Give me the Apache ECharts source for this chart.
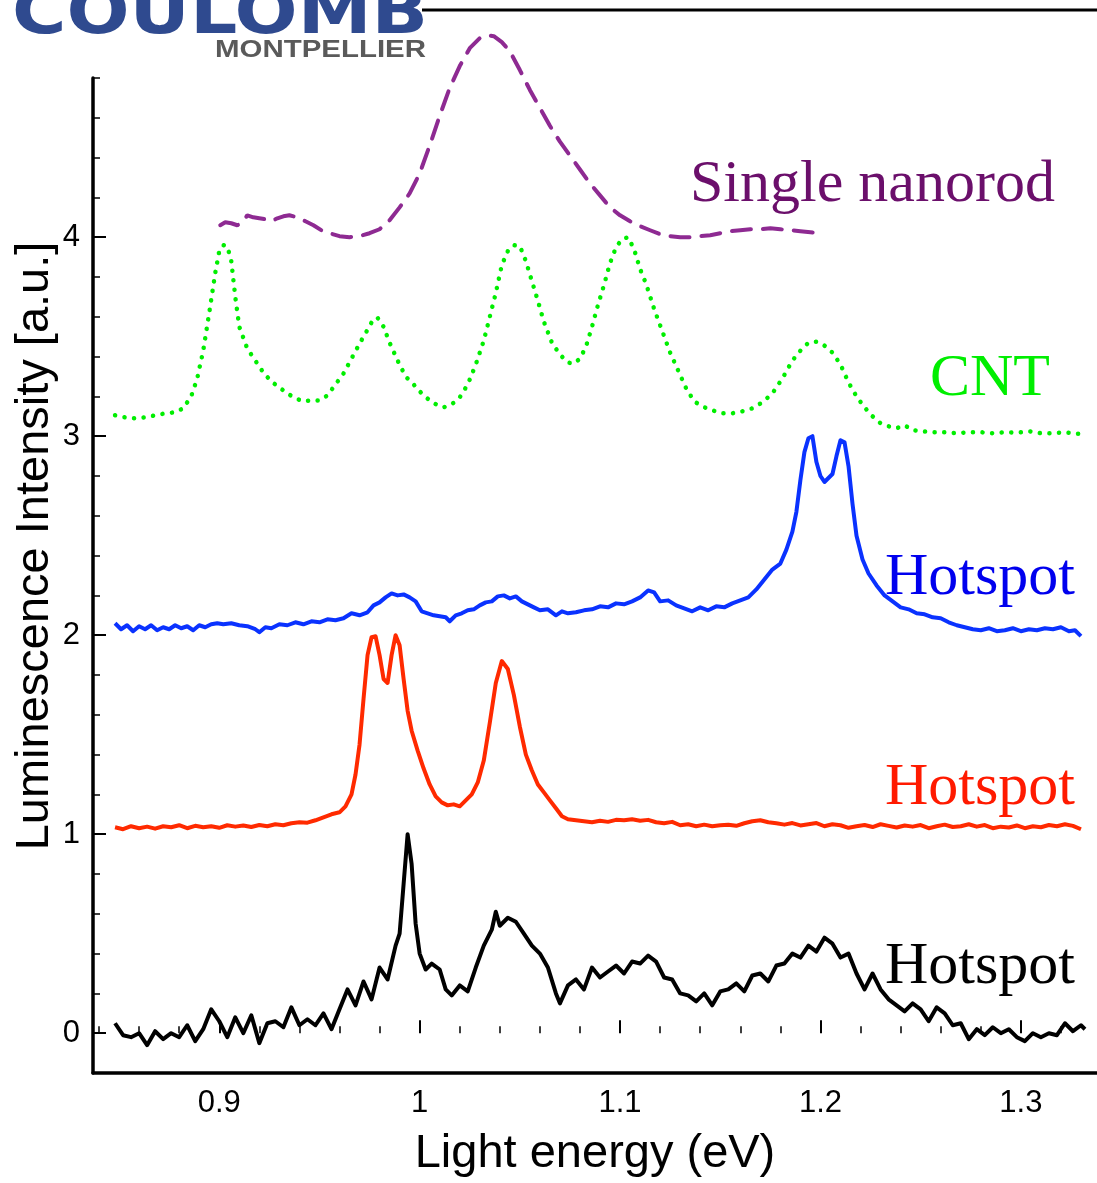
<!DOCTYPE html>
<html>
<head>
<meta charset="utf-8">
<script src="https://cdn.jsdelivr.net/npm/echarts@6/dist/echarts.min.js"></script>
<style>html,body{margin:0;padding:0;background:#fff}#chart{width:1097px;height:1183px}</style>
</head>
<body>
<div id="chart"></div>
<script>
// ---------- DATA ----------
const xMajorTicks = [0.9, 1.0, 1.1, 1.2, 1.3];
const xMinorTicks = [0.84, 0.86, 0.88, 0.92, 0.94, 0.96, 0.98, 1.02, 1.04, 1.06, 1.08, 1.12, 1.14, 1.16, 1.18, 1.22, 1.24, 1.26, 1.28, 1.32];
const yMajorTicks = [0, 1, 2, 3, 4];
const yMinorTicks = [0.2, 0.4, 0.6, 0.8, 1.2, 1.4, 1.6, 1.8, 2.2, 2.4, 2.6, 2.8, 3.2, 3.4, 3.6, 3.8, 4.2, 4.4, 4.6, 4.8];
const seriesLabels = ["Single nanorod", "CNT", "Hotspot", "Hotspot", "Hotspot"];

// Black "Hotspot"
const energyBlack = [0.848,0.852,0.856,0.860,0.864,0.868,0.872,0.876,0.880,0.884,0.888,0.892,0.896,0.900,0.904,0.908,0.912,0.916,0.920,0.924,0.928,0.932,0.936,0.940,0.944,0.948,0.952,0.956,0.960,0.964,0.968,0.972,0.976,0.980,0.984,0.988,0.990,0.992,0.994,0.996,0.998,1.000,1.003,1.006,1.010,1.013,1.016,1.020,1.024,1.028,1.032,1.036,1.038,1.040,1.044,1.048,1.052,1.056,1.060,1.064,1.068,1.070,1.074,1.078,1.082,1.086,1.090,1.094,1.098,1.102,1.106,1.110,1.114,1.118,1.122,1.126,1.130,1.134,1.138,1.142,1.146,1.150,1.154,1.158,1.162,1.166,1.170,1.174,1.178,1.182,1.186,1.190,1.194,1.198,1.202,1.206,1.210,1.214,1.218,1.222,1.226,1.230,1.234,1.238,1.242,1.246,1.250,1.254,1.258,1.262,1.266,1.270,1.274,1.278,1.282,1.286,1.290,1.294,1.298,1.302,1.306,1.310,1.314,1.318,1.322,1.326,1.330,1.332];
const intensityBlack = [0.05,-0.01,-0.02,0.00,-0.06,0.01,-0.03,0.00,-0.02,0.04,-0.04,0.02,0.12,0.06,-0.02,0.08,0.00,0.09,-0.05,0.05,0.06,0.03,0.13,0.04,0.07,0.04,0.10,0.02,0.12,0.22,0.14,0.26,0.17,0.33,0.27,0.44,0.50,0.75,1.00,0.85,0.55,0.40,0.32,0.35,0.32,0.22,0.19,0.24,0.21,0.33,0.44,0.52,0.61,0.54,0.58,0.56,0.50,0.44,0.40,0.33,0.20,0.15,0.24,0.27,0.22,0.33,0.28,0.31,0.34,0.30,0.36,0.35,0.39,0.36,0.28,0.27,0.20,0.19,0.16,0.20,0.14,0.21,0.22,0.25,0.21,0.29,0.30,0.26,0.34,0.35,0.40,0.38,0.44,0.41,0.48,0.45,0.38,0.40,0.30,0.22,0.30,0.22,0.17,0.14,0.11,0.15,0.12,0.06,0.13,0.10,0.04,0.05,-0.03,0.02,-0.01,0.03,0.00,0.02,-0.02,-0.04,0.00,-0.02,0.00,-0.01,0.05,0.01,0.04,0.02];

// Red "Hotspot"
const energyRed = [0.848,0.852,0.856,0.860,0.864,0.868,0.872,0.876,0.880,0.884,0.888,0.892,0.896,0.900,0.904,0.908,0.912,0.916,0.920,0.924,0.928,0.932,0.936,0.940,0.944,0.948,0.952,0.956,0.960,0.963,0.966,0.968,0.970,0.972,0.974,0.976,0.978,0.980,0.982,0.984,0.986,0.988,0.990,0.992,0.994,0.996,0.999,1.002,1.005,1.008,1.011,1.014,1.017,1.020,1.023,1.026,1.029,1.032,1.035,1.038,1.041,1.044,1.047,1.050,1.053,1.056,1.059,1.062,1.065,1.068,1.071,1.074,1.078,1.082,1.086,1.090,1.094,1.098,1.102,1.106,1.110,1.114,1.118,1.122,1.126,1.130,1.134,1.138,1.142,1.146,1.150,1.154,1.158,1.162,1.166,1.170,1.174,1.178,1.182,1.186,1.190,1.194,1.198,1.202,1.206,1.210,1.214,1.218,1.222,1.226,1.230,1.234,1.238,1.242,1.246,1.250,1.254,1.258,1.262,1.266,1.270,1.274,1.278,1.282,1.286,1.290,1.294,1.298,1.302,1.306,1.310,1.314,1.318,1.322,1.326,1.330];
const intensityRed = [1.035,1.025,1.040,1.030,1.038,1.028,1.040,1.035,1.045,1.030,1.042,1.035,1.040,1.032,1.045,1.038,1.044,1.036,1.046,1.040,1.050,1.045,1.055,1.060,1.058,1.070,1.085,1.100,1.110,1.140,1.200,1.300,1.450,1.680,1.900,1.990,1.995,1.900,1.780,1.760,1.900,2.000,1.950,1.780,1.620,1.520,1.420,1.330,1.250,1.190,1.160,1.145,1.150,1.140,1.170,1.200,1.260,1.370,1.560,1.760,1.870,1.830,1.700,1.540,1.400,1.320,1.250,1.210,1.170,1.130,1.090,1.075,1.070,1.065,1.060,1.068,1.062,1.072,1.070,1.075,1.068,1.072,1.060,1.055,1.062,1.045,1.050,1.040,1.048,1.040,1.045,1.048,1.042,1.055,1.065,1.070,1.060,1.055,1.048,1.056,1.044,1.050,1.056,1.040,1.050,1.045,1.032,1.040,1.046,1.036,1.050,1.042,1.034,1.044,1.038,1.046,1.030,1.040,1.048,1.036,1.040,1.050,1.038,1.046,1.030,1.038,1.034,1.044,1.030,1.040,1.035,1.046,1.040,1.050,1.042,1.025];

// Blue "Hotspot"
const energyBlue = [0.848,0.851,0.854,0.857,0.860,0.863,0.866,0.869,0.872,0.875,0.878,0.881,0.884,0.887,0.890,0.893,0.896,0.899,0.902,0.906,0.910,0.914,0.918,0.920,0.923,0.926,0.930,0.934,0.938,0.942,0.946,0.950,0.954,0.958,0.962,0.966,0.970,0.974,0.977,0.980,0.983,0.986,0.989,0.992,0.995,0.998,1.001,1.004,1.007,1.010,1.013,1.015,1.018,1.021,1.024,1.027,1.030,1.033,1.036,1.039,1.042,1.045,1.048,1.051,1.054,1.057,1.060,1.064,1.068,1.071,1.074,1.078,1.082,1.086,1.090,1.094,1.098,1.102,1.106,1.110,1.114,1.117,1.120,1.124,1.128,1.132,1.136,1.140,1.144,1.148,1.152,1.156,1.160,1.164,1.168,1.172,1.176,1.180,1.183,1.186,1.188,1.190,1.192,1.194,1.196,1.198,1.200,1.202,1.204,1.206,1.208,1.210,1.212,1.214,1.216,1.218,1.221,1.224,1.228,1.232,1.236,1.240,1.244,1.248,1.252,1.256,1.260,1.264,1.268,1.272,1.276,1.280,1.284,1.288,1.292,1.296,1.300,1.304,1.308,1.312,1.316,1.320,1.324,1.327,1.330];
const intensityBlue = [2.06,2.03,2.05,2.02,2.045,2.03,2.05,2.025,2.04,2.03,2.05,2.035,2.045,2.025,2.05,2.04,2.055,2.06,2.055,2.06,2.05,2.045,2.03,2.015,2.04,2.035,2.055,2.05,2.065,2.055,2.07,2.065,2.08,2.075,2.085,2.11,2.10,2.115,2.15,2.165,2.19,2.21,2.20,2.205,2.19,2.17,2.12,2.11,2.10,2.095,2.09,2.07,2.10,2.11,2.125,2.13,2.15,2.165,2.17,2.195,2.20,2.185,2.195,2.17,2.155,2.14,2.125,2.13,2.10,2.12,2.11,2.115,2.125,2.13,2.145,2.14,2.16,2.155,2.17,2.19,2.225,2.215,2.17,2.175,2.15,2.135,2.12,2.14,2.125,2.145,2.14,2.16,2.175,2.19,2.23,2.28,2.33,2.36,2.43,2.52,2.62,2.78,2.92,2.99,3.00,2.87,2.80,2.77,2.79,2.81,2.90,2.98,2.97,2.85,2.66,2.50,2.38,2.31,2.25,2.20,2.17,2.14,2.13,2.11,2.105,2.09,2.085,2.065,2.05,2.04,2.03,2.025,2.035,2.02,2.025,2.035,2.02,2.03,2.025,2.035,2.03,2.04,2.02,2.025,1.995];

// Green "CNT"
const energyCNT = [0.848,0.853,0.858,0.863,0.868,0.873,0.878,0.882,0.886,0.889,0.892,0.895,0.898,0.900,0.902,0.904,0.906,0.908,0.910,0.914,0.918,0.922,0.926,0.930,0.934,0.938,0.942,0.946,0.950,0.954,0.958,0.962,0.966,0.970,0.974,0.977,0.979,0.982,0.985,0.989,0.993,0.997,1.001,1.005,1.009,1.012,1.016,1.020,1.024,1.028,1.032,1.035,1.038,1.041,1.044,1.047,1.050,1.053,1.056,1.059,1.062,1.066,1.070,1.074,1.077,1.080,1.083,1.086,1.089,1.092,1.095,1.098,1.101,1.104,1.107,1.110,1.113,1.117,1.121,1.125,1.129,1.133,1.137,1.141,1.146,1.151,1.156,1.161,1.166,1.171,1.176,1.181,1.186,1.190,1.194,1.198,1.202,1.206,1.210,1.214,1.218,1.222,1.226,1.230,1.234,1.238,1.242,1.246,1.250,1.256,1.262,1.268,1.274,1.280,1.286,1.292,1.298,1.304,1.310,1.316,1.322,1.328,1.332];
const intensityCNT = [3.105,3.095,3.09,3.095,3.105,3.115,3.12,3.14,3.20,3.29,3.43,3.62,3.82,3.93,3.96,3.955,3.88,3.70,3.55,3.44,3.38,3.32,3.275,3.245,3.215,3.19,3.175,3.18,3.18,3.205,3.26,3.315,3.39,3.465,3.535,3.59,3.595,3.55,3.47,3.38,3.30,3.26,3.215,3.18,3.155,3.145,3.16,3.195,3.26,3.36,3.48,3.60,3.72,3.86,3.93,3.96,3.955,3.88,3.78,3.68,3.575,3.47,3.41,3.37,3.365,3.39,3.45,3.55,3.66,3.76,3.87,3.95,3.99,4.00,3.94,3.84,3.765,3.64,3.53,3.42,3.33,3.24,3.175,3.15,3.13,3.115,3.115,3.125,3.14,3.17,3.215,3.29,3.38,3.43,3.47,3.475,3.455,3.42,3.36,3.27,3.20,3.145,3.10,3.065,3.05,3.04,3.055,3.03,3.025,3.02,3.02,3.015,3.02,3.02,3.015,3.02,3.018,3.025,3.015,3.015,3.02,3.012,3.012];

// Purple "Single nanorod"
const energyRod = [0.9005,0.903,0.906,0.909,0.911,0.914,0.917,0.920,0.923,0.926,0.929,0.932,0.935,0.939,0.943,0.947,0.951,0.955,0.960,0.965,0.970,0.975,0.980,0.985,0.990,0.995,1.000,1.005,1.010,1.015,1.020,1.025,1.030,1.034,1.037,1.041,1.045,1.050,1.055,1.060,1.065,1.070,1.075,1.080,1.085,1.090,1.095,1.100,1.105,1.110,1.115,1.120,1.125,1.130,1.135,1.140,1.145,1.150,1.155,1.160,1.165,1.170,1.175,1.180,1.185,1.190,1.195,1.200];
const intensityRod = [4.06,4.075,4.07,4.06,4.07,4.11,4.10,4.095,4.09,4.08,4.095,4.105,4.11,4.10,4.08,4.06,4.035,4.02,4.005,4.00,4.005,4.02,4.04,4.085,4.15,4.22,4.32,4.46,4.61,4.75,4.86,4.95,5.00,5.015,5.01,4.98,4.935,4.84,4.74,4.65,4.56,4.48,4.41,4.34,4.27,4.21,4.15,4.11,4.08,4.055,4.035,4.015,4.005,4.00,4.00,4.005,4.01,4.02,4.03,4.035,4.04,4.04,4.045,4.04,4.035,4.03,4.025,4.02];

// ---------- CHART ----------
const pair = (xs, ys) => xs.map((x, i) => [x, ys[i]]);
const chart = echarts.init(document.getElementById('chart'), null, {renderer: 'canvas'});
const axisFont = 'Liberation Sans, Arial, Helvetica, sans-serif';
const serif = 'Liberation Serif, Times New Roman, serif';
const XMIN = 0.837, XMAX = 1.338, YMIN = -0.2, YMAX = 4.8;

function tickAxis(kind, ticks, len, width) {
  const a = {
    type: 'value', position: kind === 'x' ? 'bottom' : 'left', offset: 0,
    min: kind === 'x' ? XMIN : YMIN, max: kind === 'x' ? XMAX : YMAX,
    axisLine: {show: false},
    axisTick: {show: true, inside: true, length: len, lineStyle: {color: '#000', width: width}, customValues: ticks},
    axisLabel: {show: false},
    splitLine: {show: false}
  };
  return a;
}

const option = {
  animation: false,
  backgroundColor: '#fff',
  grid: {left: 93, right: 0, top: 78, bottom: 103, containLabel: false},
  xAxis: [
    {
      type: 'value', min: XMIN, max: XMAX, position: 'bottom',
      axisLine: {show: true, onZero: false, lineStyle: {color: '#000', width: 3.5}},
      axisTick: {show: false},
      axisLabel: {show: true, customValues: xMajorTicks, margin: 15, color: '#000', fontSize: 31, fontFamily: axisFont,
                  formatter: v => (Math.abs(v - 1) < 1e-9 ? '1' : String(Math.round(v * 10) / 10))},
      splitLine: {show: false},
      name: 'Light energy (eV)', nameLocation: 'middle', nameGap: 58,
      nameTextStyle: {fontSize: 47, color: '#000', fontFamily: axisFont}
    },
    tickAxis('x', xMajorTicks, 13, 2),
    tickAxis('x', xMinorTicks, 7, 1.5)
  ],
  yAxis: [
    {
      type: 'value', min: YMIN, max: YMAX, position: 'left',
      axisLine: {show: true, onZero: false, lineStyle: {color: '#000', width: 3.5}},
      axisTick: {show: false},
      axisLabel: {show: true, customValues: yMajorTicks, margin: 13, color: '#000', fontSize: 31, fontFamily: axisFont},
      splitLine: {show: false}
    },
    tickAxis('y', yMajorTicks, 13, 2),
    tickAxis('y', yMinorTicks, 7, 1.5)
  ],
  series: [
    {name: 'Single nanorod', type: 'line', data: pair(energyRod, intensityRod), showSymbol: false, clip: false,
     lineStyle: {color: '#8e2a92', width: 4, type: [19, 12], cap: 'round'}, z: 3},
    {name: 'CNT', type: 'line', data: pair(energyCNT, intensityCNT), showSymbol: false, clip: false,
     lineStyle: {color: '#00ee00', width: 4.5, type: [0.1, 9.5], cap: 'round'}, z: 3},
    {name: 'Hotspot blue', type: 'line', data: pair(energyBlue, intensityBlue), showSymbol: false, clip: false,
     lineStyle: {color: '#0a32ff', width: 4, join: 'round'}, z: 3},
    {name: 'Hotspot red', type: 'line', data: pair(energyRed, intensityRed), showSymbol: false, clip: false,
     lineStyle: {color: '#ff2a00', width: 4, join: 'round'}, z: 3},
    {name: 'Hotspot black', type: 'line', data: pair(energyBlack, intensityBlack), showSymbol: false, clip: false,
     lineStyle: {color: '#000', width: 4, join: 'round'}, z: 3}
  ],
  graphic: [
    {type: 'line', shape: {x1: 422, y1: 10, x2: 1097, y2: 10}, style: {stroke: '#000', lineWidth: 3}},
    {type: 'text', x: 12, y: 48, scaleX: 1.16, style: {text: 'COULOMB', fontSize: 64, fontWeight: 'bold', fontFamily: 'DejaVu Sans, sans-serif',
      fill: '#2f4a8f', textVerticalAlign: 'bottom'}},
    {type: 'text', x: 215, y: 62, scaleX: 1.28, style: {text: 'MONTPELLIER', fontSize: 23, fontWeight: 'bold', fontFamily: 'Liberation Sans, sans-serif',
      fill: '#5a5a5a', textVerticalAlign: 'bottom'}},
    {type: 'text', x: 35, y: 546, rotation: Math.PI / 2,
     style: {text: 'Luminescence Intensity [a.u.]', fontSize: 47, fontFamily: axisFont, fill: '#000', textAlign: 'center', textVerticalAlign: 'middle'}},
    {type: 'text', x: 690, y: 185, style: {text: seriesLabels[0], fontSize: 60, fontFamily: serif, fill: '#6b0f6b', textVerticalAlign: 'middle'}},
    {type: 'text', x: 930, y: 379, style: {text: seriesLabels[1], fontSize: 60, fontFamily: serif, fill: '#00ee00', textVerticalAlign: 'middle'}},
    {type: 'text', x: 885, y: 578, style: {text: seriesLabels[2], fontSize: 60, fontFamily: serif, fill: '#0000ee', textVerticalAlign: 'middle'}},
    {type: 'text', x: 885, y: 788, style: {text: seriesLabels[3], fontSize: 60, fontFamily: serif, fill: '#ff1a00', textVerticalAlign: 'middle'}},
    {type: 'text', x: 885, y: 967, style: {text: seriesLabels[4], fontSize: 60, fontFamily: serif, fill: '#000', textVerticalAlign: 'middle'}}
  ]
};
chart.setOption(option);
</script>
</body>
</html>
